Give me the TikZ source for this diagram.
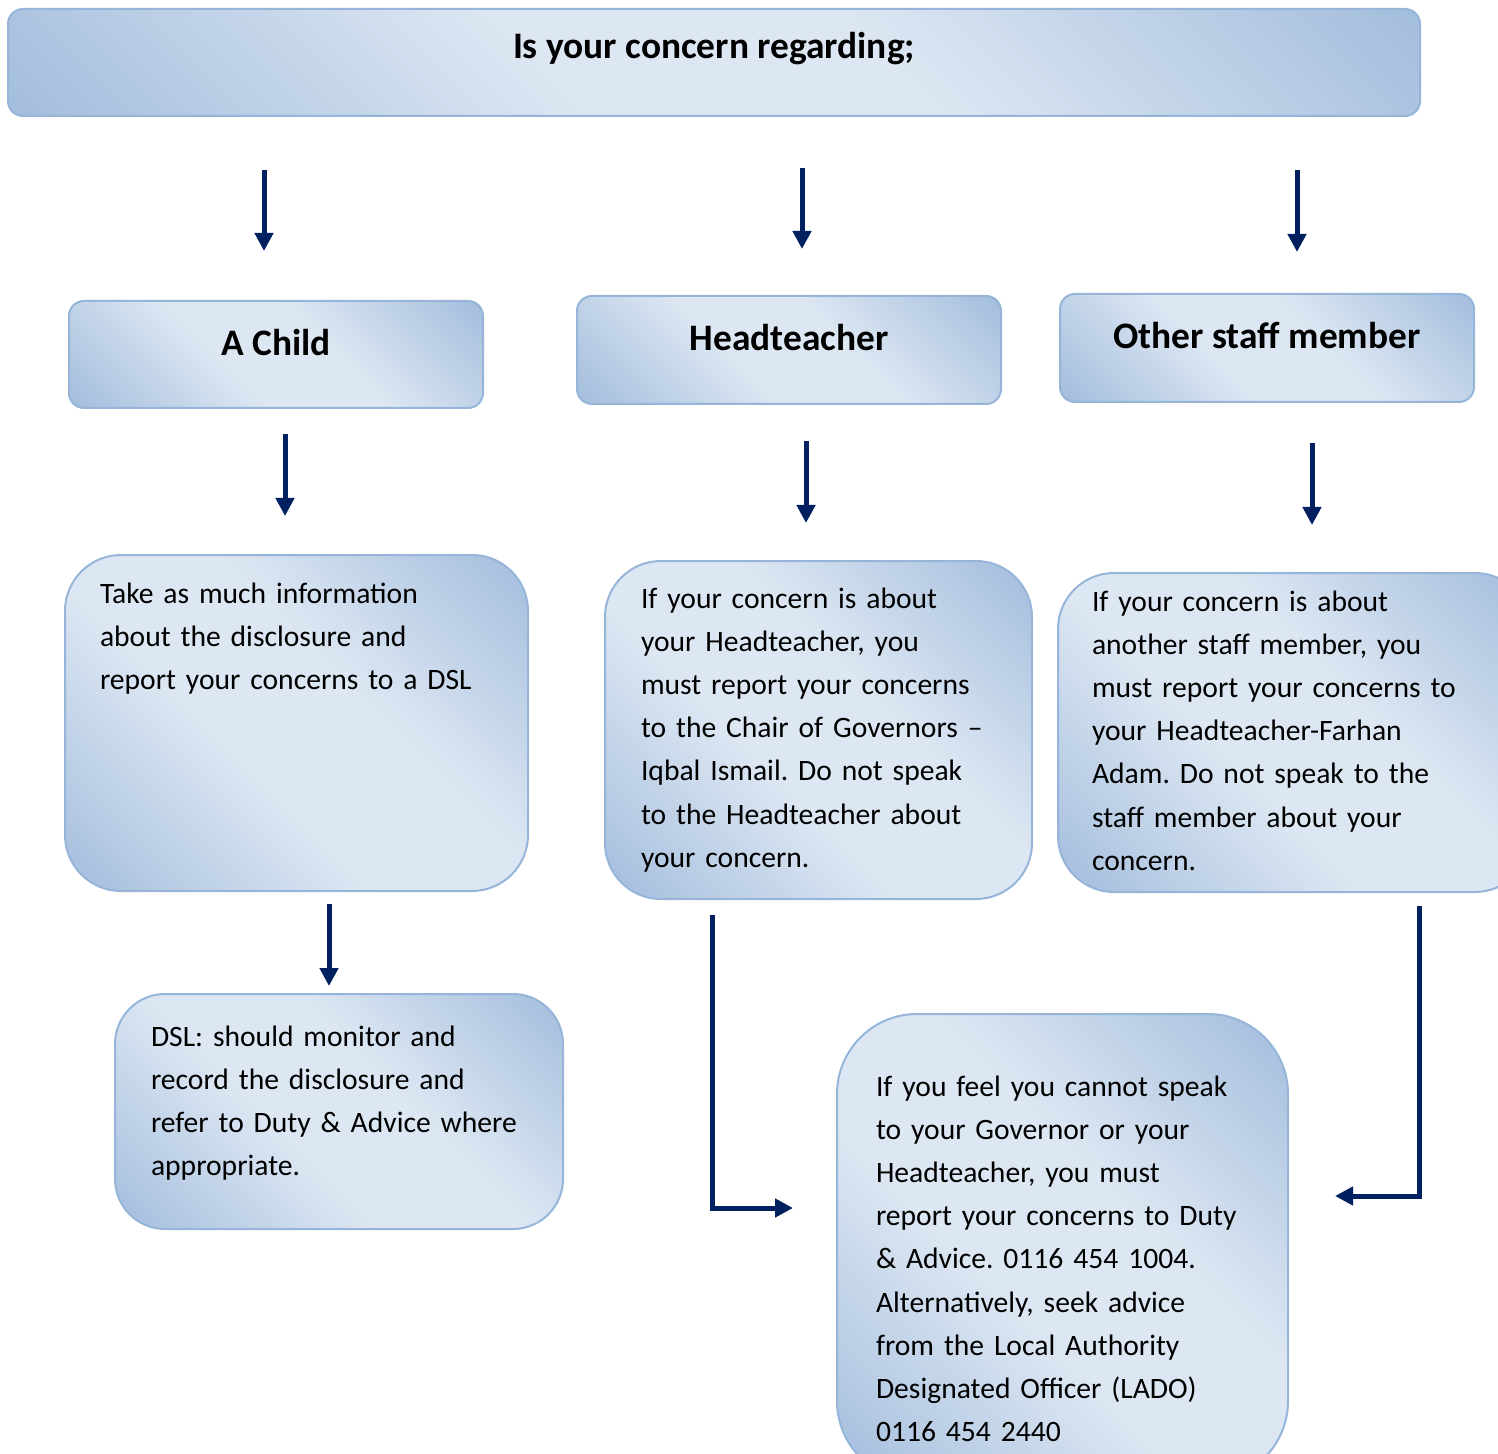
\documentclass[tikz,border=0pt]{standalone}
\usepackage{fontspec}
\setmainfont{Carlito}
\usepackage{xcolor}
\usepackage{tikz}
\usetikzlibrary{arrows.meta,positioning}

\definecolor{gdark}{RGB}{149,179,215}
\definecolor{glight}{RGB}{221,231,243}
\definecolor{gline}{RGB}{150,181,217}
\definecolor{navy}{RGB}{0,32,96}
\pgfdeclarehorizontalshading{cardshade}{100bp}{color(0bp)=(gdark);
  color(8bp)=(gdark); color(42bp)=(glight); color(58bp)=(glight);
  color(92bp)=(gdark); color(100bp)=(gdark)}

\begin{document}
\frenchspacing
\begin{tikzpicture}[
  x=0.5pt, y=-0.5pt,
  gfill/.style={shade, shading=cardshade, shading angle=45},
  head/.style={draw=gline, line width=1pt, rounded corners=7.5pt, gfill,
    font=\fontsize{18.7}{22}\selectfont\bfseries, text height=12.5pt,
    text depth=11.5pt},
  card/.style={draw=gline, line width=1pt, rounded corners=28pt, gfill,
    anchor=north west, inner ysep=0pt, align=left,
    font=\fontsize{14.8}{21.6}\selectfont},
  arr/.style={-{Triangle[length=9pt,width=9pt]}, line width=2.5pt, draw=navy}
]
\useasboundingbox (0,0) rectangle (1498,1454);
\clip (0,0) rectangle (1498,1454);

\node[head, minimum width=706pt, minimum height=53.5pt, text height=11.5pt,
  text depth=15.5pt] (concern) at (714,62.5) {Is your concern regarding;};
\node[head, minimum width=207pt, minimum height=53.5pt] (child) at (276,354.5) {A Child};
\node[head, minimum width=212pt, minimum height=54pt] (head) at (789,350) {Headteacher};
\node[head, minimum width=207pt, minimum height=54pt] (staff) at (1267,348) {Other staff member};

\node[card, inner xsep=17.5pt, text width=196.5pt, text height=24pt,
  text depth=144pt] (info) at (64,554)
  {Take as much information\\about the disclosure and\\report your concerns to a DSL};
\node[card, inner xsep=18pt, text width=177.5pt, text height=23.5pt,
  text depth=145.5pt] (headrep) at (604,560)
  {If your concern is about\\your Headteacher, you\\must report your concerns\\to the Chair of Governors –\\Iqbal Ismail. Do not speak\\to the Headteacher about\\your concern.};
\node[card, inner xsep=17pt, text width=202.5pt, text height=19pt,
  text depth=140.5pt] (staffrep) at (1057,572)
  {If your concern is about\\another staff member, you\\must report your concerns to\\your Headteacher-Farhan\\Adam. Do not speak to the\\staff member about your\\concern.};
\node[card, rounded corners=25pt, inner xsep=18pt, text width=188pt,
  text height=26pt, text depth=91.5pt] (dsl) at (114,993)
  {DSL: should monitor and\\record the disclosure and\\refer to Duty \& Advice where\\appropriate.};
\node[card, rounded corners=40pt, inner xsep=19.5pt, text width=186.5pt,
  text height=41pt, text depth=192.5pt] (duty) at (836,1013)
  {If you feel you cannot speak\\to your Governor or your\\Headteacher, you must\\report your concerns to Duty\\\& Advice. 0116 454 1004.\\Alternatively, seek advice\\from the Local Authority\\Designated Officer (LADO)\\0116 454 2440};

\coordinate (childtop) at (264,170);
\coordinate (childend) at (264,251);
\coordinate (headtop) at (802,168);
\coordinate (headend) at (802,249);
\coordinate (stafftop) at (1297,170);
\coordinate (staffend) at (1297,252);
\coordinate (infotop) at (285,434);
\coordinate (infoend) at (285,516);
\coordinate (hreptop) at (806,441);
\coordinate (hrepend) at (806,523);
\coordinate (sreptop) at (1312,443);
\coordinate (srepend) at (1312,525);
\coordinate (dsltop) at (329,904);
\coordinate (dslend) at (329,986);
\coordinate (dutyl) at (712,915);
\coordinate (dutylend) at (793,1208);
\coordinate (dutyr) at (1419,906);
\coordinate (dutyrend) at (1335,1196);

\draw[arr] (childtop) -- (childend);
\draw[arr] (headtop) -- (headend);
\draw[arr] (stafftop) -- (staffend);
\draw[arr] (infotop) -- (infoend);
\draw[arr] (hreptop) -- (hrepend);
\draw[arr] (sreptop) -- (srepend);
\draw[arr] (dsltop) -- (dslend);
\draw[arr] (dutyl) |- (dutylend);
\draw[arr] (dutyr) |- (dutyrend);
\end{tikzpicture}
\end{document}
